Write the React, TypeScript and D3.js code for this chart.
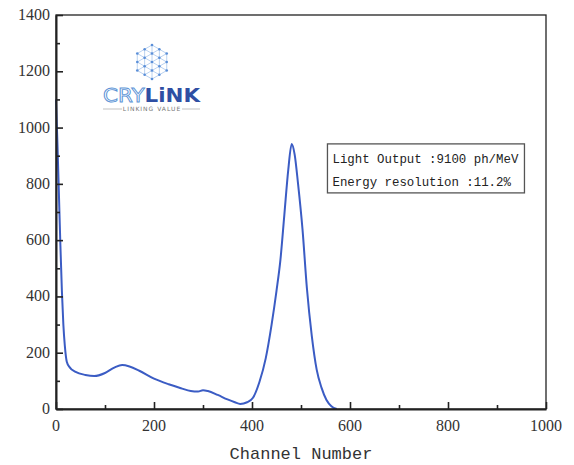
import React, { useEffect, useRef } from 'react'
import * as d3 from 'd3'

// spectrum: channel vs counts
const channels = [0, 3, 6, 9, 12, 15, 18, 22, 28, 40, 60, 78, 100, 120, 135, 150, 170, 200, 230, 255, 275, 290, 300, 310, 330, 350, 365, 376, 390, 402, 415, 428, 440, 450, 458, 466, 474, 481, 487, 494, 503, 512, 522, 532, 542, 552, 562, 573]
const counts = [1100, 940, 760, 580, 420, 300, 225, 168, 148, 132, 121, 117, 128, 148, 156, 151, 136, 108, 88, 74, 64, 62, 67, 64, 50, 34, 24, 18, 24, 40, 95, 180, 300, 420, 530, 690, 850, 942, 905, 800, 640, 430, 260, 140, 75, 32, 10, 0]

const xTicks = [0, 200, 400, 600, 800, 1000]
const yTicks = [0, 200, 400, 600, 800, 1000, 1200, 1400]
const legendLines = ['Light Output :9100 ph/MeV', 'Energy resolution :11.2%']

const serif = "'Liberation Serif', 'DejaVu Serif', 'Times New Roman', serif"
const mono = "'Liberation Mono', 'Courier New', 'DejaVu Sans Mono', monospace"

const App = () => {
  const svgRef = useRef<SVGSVGElement>(null)

  useEffect(() => {
    const w = 574
    const h = 465
    const m = { left: 56, right: 28, top: 15, bottom: 56 }
    const svg = d3.select(svgRef.current)
    svg.selectAll('*').remove()

    const x = d3.scaleLinear().domain([0, 1000]).range([m.left, w - m.right])
    const y = d3.scaleLinear().domain([0, 1400]).range([h - m.bottom, m.top])

    // curve
    const data = channels.map((c, i) => [c, counts[i]] as [number, number])
    const line = d3.line<[number, number]>()
      .x(d => x(d[0]))
      .y(d => y(d[1]))
      .curve(d3.curveMonotoneX)
    svg.append('path')
      .attr('d', line(data))
      .attr('fill', 'none')
      .attr('stroke', '#3b5cc4')
      .attr('stroke-width', 2)

    // frame
    svg.append('rect')
      .attr('x', x(0)).attr('y', y(1400))
      .attr('width', x(1000) - x(0)).attr('height', y(0) - y(1400))
      .attr('fill', 'none').attr('stroke', '#222').attr('stroke-width', 1.3)

    // axes with inward ticks
    const xAxis = d3.axisBottom(x).tickValues(d3.range(0, 1001, 100)).tickSize(0).tickFormat(() => '')
    const gx = svg.append('g').attr('transform', `translate(0,${y(0)})`).call(xAxis)
    gx.select('.domain').attr('stroke', '#222').attr('stroke-width', 2)
    gx.selectAll('.tick line')
      .attr('y2', (d: any) => (d % 200 === 0 ? -7 : -4))
      .attr('stroke', '#222').attr('stroke-width', 1.6)

    const yAxis = d3.axisLeft(y).tickValues(d3.range(0, 1401, 100)).tickSize(0).tickFormat(() => '')
    const gy = svg.append('g').attr('transform', `translate(${x(0)},0)`).call(yAxis)
    gy.select('.domain').attr('stroke', '#222').attr('stroke-width', 2)
    gy.selectAll('.tick line')
      .attr('x2', (d: any) => (d % 200 === 0 ? 7 : 4))
      .attr('stroke', '#222').attr('stroke-width', 1.6)

    // tick labels
    svg.append('g').selectAll('text').data(xTicks).join('text')
      .attr('x', d => x(d)).attr('y', y(0) + 22)
      .attr('text-anchor', 'middle')
      .style('font-family', serif).attr('font-size', 16)
      .attr('fill', '#333').text(d => d)
    svg.append('g').selectAll('text').data(yTicks).join('text')
      .attr('x', x(0) - 6).attr('y', d => y(d) + 5)
      .attr('text-anchor', 'end')
      .style('font-family', serif).attr('font-size', 16)
      .attr('fill', '#333').text(d => d)

    svg.append('text')
      .attr('x', (x(0) + x(1000)) / 2).attr('y', h - 6)
      .attr('text-anchor', 'middle')
      .style('font-family', mono).attr('font-size', 17)
      .attr('fill', '#333').text('Channel Number')

    // legend box
    const lg = svg.append('g').attr('transform', `translate(${x(554)},${y(942)})`)
    lg.append('rect').attr('width', 197).attr('height', 49)
      .attr('fill', 'white').attr('stroke', '#555').attr('stroke-width', 1.3)
    lg.selectAll('text').data(legendLines).join('text')
      .attr('x', 5).attr('y', (d, i) => 19 + i * 23)
      .style('font-family', mono).attr('font-size', 12.4)
      .attr('fill', '#222').text(d => d)

    // logo
    const logo = svg.append('g').attr('transform', 'translate(152,62)')
    const r = 17
    const pts: [number, number][] = []
    for (let q = -2; q <= 2; q++) {
      for (let s = -2; s <= 2; s++) {
        if (Math.abs(q + s) > 2) continue
        pts.push([(q + s / 2) * (r / 2), s * (r / 2) * Math.sqrt(3) / 2])
      }
    }
    const rot = pts.map(([a, b]) => [b, a] as [number, number])
    const links: [number, number][][] = []
    rot.forEach((p, i) => rot.forEach((o, j) => {
      if (j > i && Math.hypot(p[0] - o[0], p[1] - o[1]) < r / 2 + 0.5) links.push([p, o])
    }))
    logo.selectAll('line').data(links).join('line')
      .attr('x1', d => d[0][0]).attr('y1', d => d[0][1])
      .attr('x2', d => d[1][0]).attr('y2', d => d[1][1])
      .attr('stroke', '#a8c6ec').attr('stroke-width', 0.8)
    logo.selectAll('circle').data(rot).join('circle')
      .attr('cx', d => d[0]).attr('cy', d => d[1]).attr('r', 1.3)
      .attr('fill', '#5b8fd8')

    const lt = svg.append('text').attr('x', 103).attr('y', 102)
      .style('font-family', "'DejaVu Sans', sans-serif").attr('font-size', 19)
      .attr('textLength', 97).attr('lengthAdjust', 'spacingAndGlyphs')
    lt.append('tspan').attr('fill', 'none').attr('stroke', '#5b93d6').attr('stroke-width', 0.9).text('CRY')
    lt.append('tspan').attr('fill', '#2f4fa3').attr('font-weight', 'bold').text('LiNK')

    svg.append('text').attr('x', 152).attr('y', 111)
      .attr('text-anchor', 'middle')
      .style('font-family', "'DejaVu Sans', sans-serif").attr('font-size', 6)
      .attr('letter-spacing', 1).attr('fill', '#777').text('LINKING VALUE')
    svg.append('line').attr('x1', 103).attr('x2', 122).attr('y1', 109).attr('y2', 109).attr('stroke', '#999').attr('stroke-width', 0.6)
    svg.append('line').attr('x1', 182).attr('x2', 200).attr('y1', 109).attr('y2', 109).attr('stroke', '#999').attr('stroke-width', 0.6)
  }, [])

  return (
    <div className='App'>
      <svg ref={svgRef} width={574} height={465}
        style={{ position: 'absolute', left: 0, top: 0, background: 'white' }} />
    </div>
  )
}

export default App
